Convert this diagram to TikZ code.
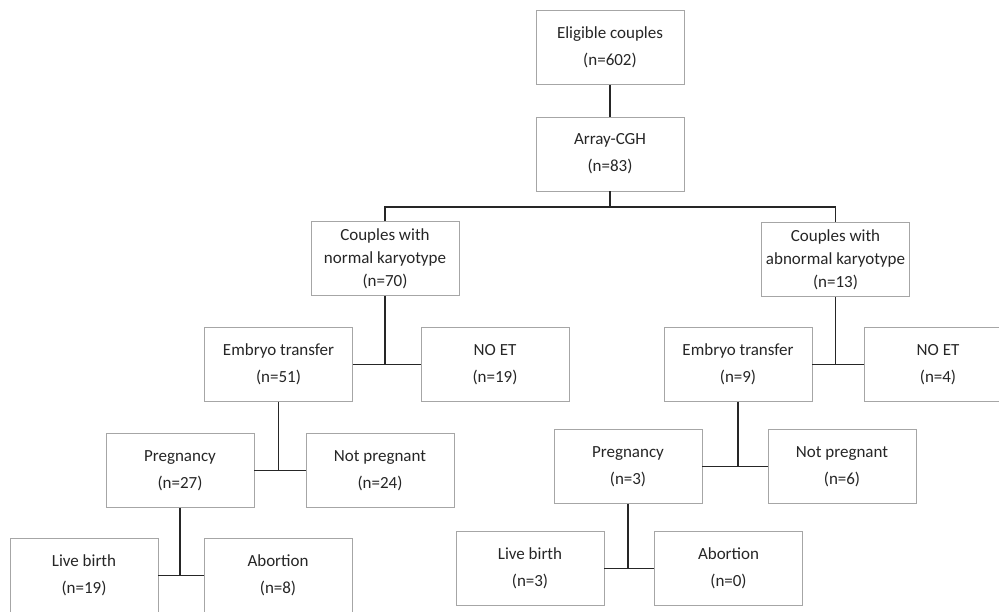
\documentclass[tikz,border=0pt]{standalone}
\usepackage{fontspec}
\setmainfont{Carlito}
\definecolor{boxgray}{HTML}{A6A6A6}
\definecolor{txtgray}{HTML}{262626}
\tikzset{
  box/.style={draw=boxgray, line width=0.8pt, fill=white, text=txtgray, align=center,
    minimum width=4.44cm, minimum height=2.22cm, inner sep=0pt,
    font=\fontsize{14.5}{23}\selectfont},
  tight/.style={font=\fontsize{14.5}{19.5}\selectfont},
  link/.style={draw=txtgray, line width=1.2pt}
}
\begin{document}
\begin{tikzpicture}[x=0.03cm, y=-0.03cm]
			\useasboundingbox (0,0) rectangle (999,612);
			\clip (0,0) rectangle (999,612);

			\begin{scope}[every node/.style={box}]
				\node (elig) at (610,47.5) {Eligible couples\\(n=602)};
				\node (acgh) at (610,154) {Array-CGH\\(n=83)};
				\node[tight] (norm) at (385,258.5) {Couples with\\normal karyotype\\(n=70)};
				\node[tight] (abn) at (835.5,259.5) {Couples with\\abnormal karyotype\\(n=13)};
				\node (etl) at (278.5,364.5) {Embryo transfer\\(n=51)};
				\node (noetl) at (495,364.5) {NO ET\\(n=19)};
				\node (etr) at (738,364.5) {Embryo transfer\\(n=9)};
				\node (noetr) at (938,364.5) {NO ET\\(n=4)};
				\node (pregl) at (180,470.5) {Pregnancy\\(n=27)};
				\node (nopregl) at (380,470.5) {Not pregnant\\(n=24)};
				\node (pregr) at (628,466.5) {Pregnancy\\(n=3)};
				\node (nopregr) at (842,466.5) {Not pregnant\\(n=6)};
				\node (livel) at (84,575.5) {Live birth\\(n=19)};
				\node (abl) at (278,575.5) {Abortion\\(n=8)};
				\node (liver) at (530,568.5) {Live birth\\(n=3)};
				\node (abr) at (728.5,568.5) {Abortion\\(n=0)};
			\end{scope}

			\coordinate (bus) at (610,207);

			\begin{scope}[every path/.style={link}]
				\draw (elig) -- (acgh);
				\draw (acgh.south) -- (bus);
				\draw (norm.north) |- (bus) -| (abn.north);
				% normal karyotype branch
				\draw (norm.south) -- (norm.south |- etl.east);
				\draw (etl.east) -- (noetl.west);
				\draw (etl.south) -- (etl.south |- pregl.east);
				\draw (pregl.east) -- (nopregl.west);
				\draw (pregl.south) -- (pregl.south |- livel.east);
				\draw (livel.east) -- (abl.west);
				% abnormal karyotype branch
				\draw (abn.south) -- (abn.south |- etr.east);
				\draw (etr.east) -- (noetr.west);
				\draw (etr.south) -- (etr.south |- pregr.east);
				\draw (pregr.east) -- (nopregr.west);
				\draw (pregr.south) -- (pregr.south |- liver.east);
				\draw (liver.east) -- (abr.west);
			\end{scope}
		\end{tikzpicture}
\end{document}
